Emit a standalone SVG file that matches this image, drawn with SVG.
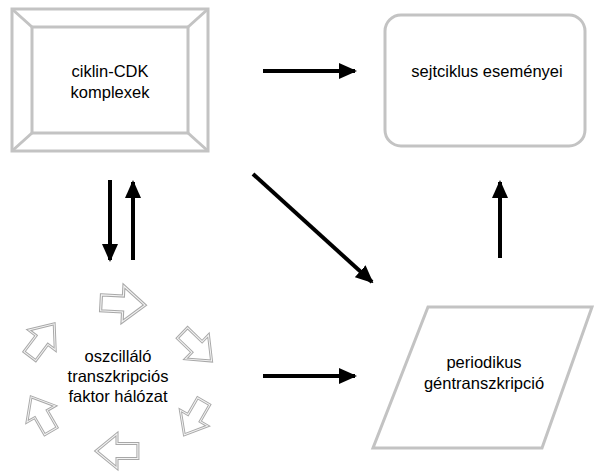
<svg xmlns="http://www.w3.org/2000/svg" xmlns:xlink="http://www.w3.org/1999/xlink" width="597" height="472" viewBox="0 0 597 472">
<style>
.box{fill:none;stroke:#c3c3c3;stroke-width:3}
.lbl{font-family:"Liberation Sans",Arial,sans-serif;font-size:16.5px;fill:#000;text-anchor:middle}
.conn{stroke:#000;stroke-width:4;fill:none;marker-end:url(#ah)}
.bo{fill:none;stroke:#a8a8a8;stroke-width:3.2;stroke-linejoin:miter}
.bi{fill:none;stroke:#f4f4f4;stroke-width:1.1;stroke-linejoin:miter}
</style>
<defs>
<marker id="ah" markerUnits="userSpaceOnUse" markerWidth="18" markerHeight="16" refX="16" refY="8" orient="auto">
<path d="M0,0 L18,8 L0,16 Z" fill="#000"/>
</marker>
<polygon id="ba" points="-22,-8 0,-8 0,-18 22,0 0,18 0,8 -22,8"/>
</defs>
<rect width="597" height="472" fill="#fff"/>
<g id="node-cdk">
<rect class="box" x="12" y="9" width="196" height="142"/>
<rect class="box" x="32" y="27" width="156" height="106"/>
<path class="box" d="M12,9 L32,27 M208,9 L188,27 M12,151 L32,133 M208,151 L188,133"/>
<text class="lbl" x="110" y="77">ciklin-CDK</text>
<text class="lbl" x="110" y="98">komplexek</text>
</g>
<g id="node-events">
<rect class="box" x="385" y="15" width="200" height="131" rx="16"/>
<text class="lbl" x="487" y="77">sejtciklus eseményei</text>
</g>
<g id="node-gene">
<polygon class="box" points="428,307 592,307 542,448 373,448"/>
<text class="lbl" x="484" y="368">periodikus</text>
<text class="lbl" x="484" y="389">géntranszkripció</text>
</g>
<g id="node-network">
<g class="bo">
<use xlink:href="#ba" transform="translate(123,304) rotate(3)"/>
<use xlink:href="#ba" transform="translate(197,347) rotate(44) scale(0.92)"/>
<use xlink:href="#ba" transform="translate(194,418) rotate(120) scale(0.88)"/>
<use xlink:href="#ba" transform="translate(117,451) rotate(180) scale(0.95)"/>
<use xlink:href="#ba" transform="translate(41,414) rotate(240) scale(0.9)"/>
<use xlink:href="#ba" transform="translate(42,340) rotate(-53) scale(0.92)"/>
</g>
<g class="bi">
<use xlink:href="#ba" transform="translate(123,304) rotate(3)"/>
<use xlink:href="#ba" transform="translate(197,347) rotate(44) scale(0.92)"/>
<use xlink:href="#ba" transform="translate(194,418) rotate(120) scale(0.88)"/>
<use xlink:href="#ba" transform="translate(117,451) rotate(180) scale(0.95)"/>
<use xlink:href="#ba" transform="translate(41,414) rotate(240) scale(0.9)"/>
<use xlink:href="#ba" transform="translate(42,340) rotate(-53) scale(0.92)"/>
</g>
<text class="lbl" x="118" y="362">oszcilláló</text>
<text class="lbl" x="118" y="382">transzkripciós</text>
<text class="lbl" x="118" y="402">faktor hálózat</text>
</g>
<g id="connectors">
<line class="conn" x1="263" y1="71" x2="355" y2="71"/>
<line class="conn" x1="110" y1="180" x2="110" y2="260"/>
<line class="conn" x1="133" y1="260" x2="133" y2="182"/>
<line class="conn" x1="253" y1="174" x2="372" y2="282"/>
<line class="conn" x1="263" y1="376" x2="355" y2="376"/>
<line class="conn" x1="500" y1="258" x2="500" y2="182"/>
</g>
</svg>
